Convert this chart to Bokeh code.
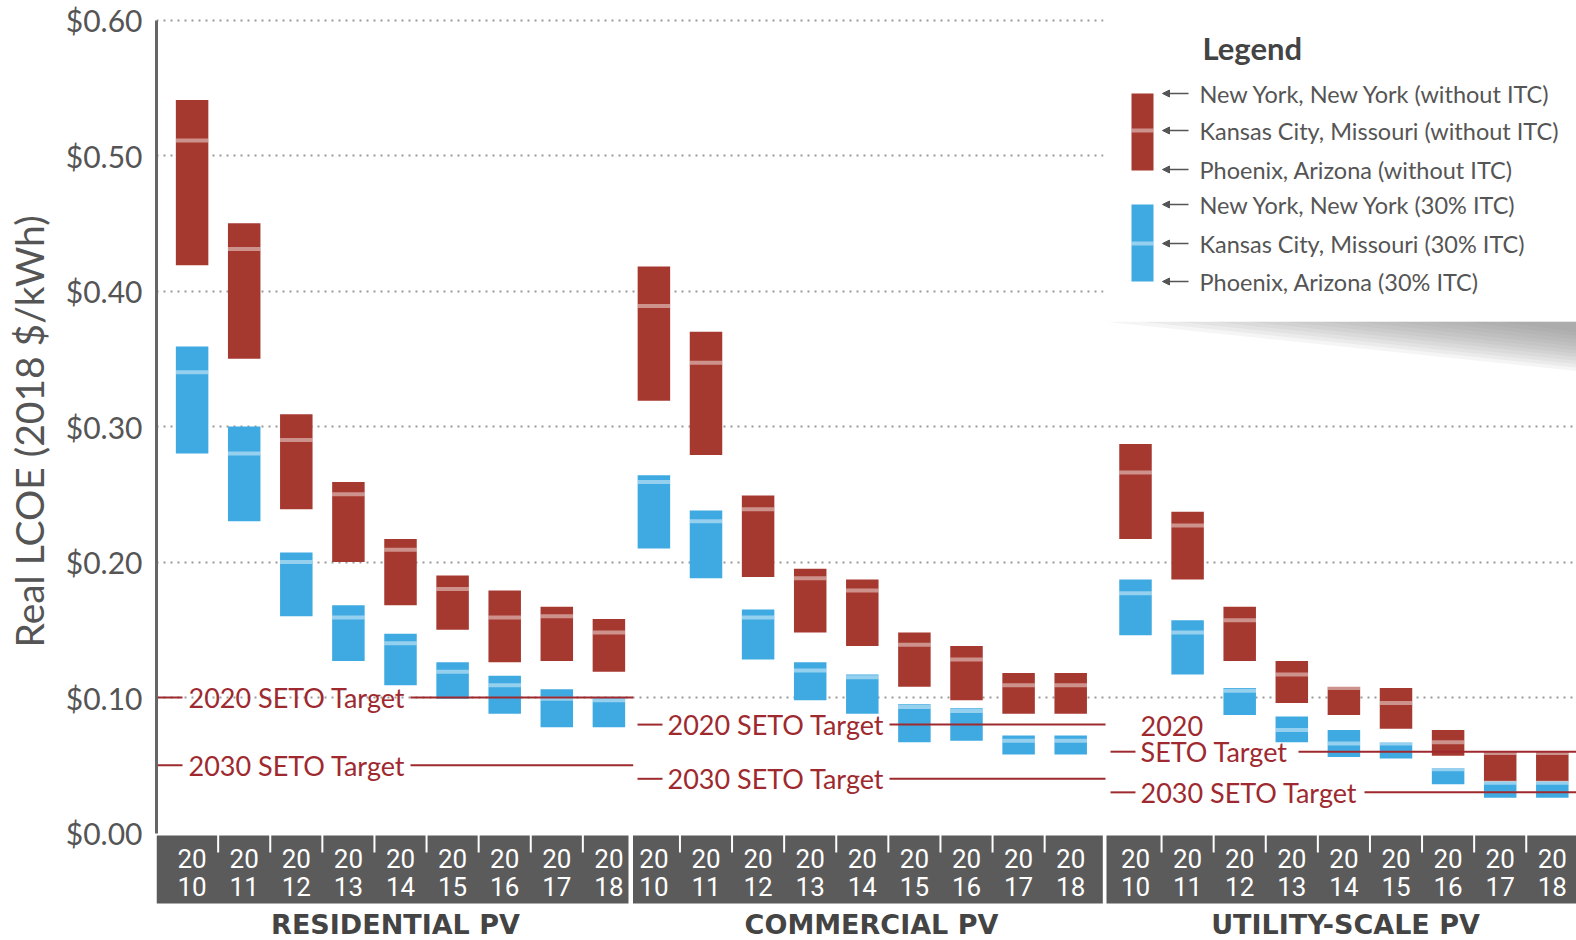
from bokeh.plotting import figure
from bokeh.models import Range1d, FixedTicker, NumeralTickFormatter, Arrow, NormalHead, ColumnDataSource
from bokeh.core.properties import value
from bokeh.embed import file_html
from bokeh.resources import INLINE

# ---------------- data ----------------
years = ["2010", "2011", "2012", "2013", "2014", "2015", "2016", "2017", "2018"]
groups = ["RESIDENTIAL PV", "COMMERCIAL PV", "UTILITY-SCALE PV"]

res_ny_no = [0.541, 0.450, 0.309, 0.259, 0.217, 0.190, 0.179, 0.167, 0.158]
res_kc_no = [0.511, 0.431, 0.290, 0.250, 0.209, 0.180, 0.159, 0.160, 0.148]
res_phx_no = [0.419, 0.350, 0.239, 0.200, 0.168, 0.150, 0.126, 0.127, 0.119]
res_ny_itc = [0.359, 0.300, 0.207, 0.168, 0.147, 0.126, 0.116, 0.106, 0.100]
res_kc_itc = [0.340, 0.280, 0.200, 0.159, 0.140, 0.119, 0.109, 0.099, 0.098]
res_phx_itc = [0.280, 0.230, 0.160, 0.127, 0.109, 0.099, 0.088, 0.078, 0.078]

com_ny_no = [0.418, 0.370, 0.249, 0.195, 0.187, 0.148, 0.138, 0.118, 0.118]
com_kc_no = [0.389, 0.347, 0.239, 0.188, 0.179, 0.139, 0.128, 0.109, 0.109]
com_phx_no = [0.319, 0.279, 0.189, 0.148, 0.138, 0.108, 0.098, 0.088, 0.088]
com_ny_itc = [0.264, 0.238, 0.165, 0.126, 0.117, 0.095, 0.092, 0.072, 0.072]
com_kc_itc = [0.259, 0.230, 0.159, 0.120, 0.115, 0.093, 0.090, 0.068, 0.068]
com_phx_itc = [0.210, 0.188, 0.128, 0.098, 0.088, 0.067, 0.068, 0.058, 0.058]

utl_ny_no = [0.287, 0.237, 0.167, 0.127, 0.108, 0.107, 0.076, 0.060, 0.060]
utl_kc_no = [0.266, 0.227, 0.157, 0.117, 0.107, 0.096, 0.067, 0.059, 0.059]
utl_phx_no = [0.217, 0.187, 0.127, 0.096, 0.087, 0.077, 0.057, 0.038, 0.038]
utl_ny_itc = [0.187, 0.157, 0.107, 0.086, 0.076, 0.067, 0.048, 0.038, 0.038]
utl_kc_itc = [0.177, 0.148, 0.105, 0.076, 0.066, 0.066, 0.047, 0.037, 0.037]
utl_phx_itc = [0.146, 0.117, 0.087, 0.067, 0.056, 0.055, 0.036, 0.026, 0.026]

targets_2020 = [0.10, 0.08, 0.06]
targets_2030 = [0.05, 0.04, 0.03]
target_2020_label = "2020 SETO Target"
target_2030_label = "2030 SETO Target"

y_ticks = [0.0, 0.1, 0.2, 0.3, 0.4, 0.5, 0.6]
y_axis_title = "Real LCOE (2018 $/kWh)"
legend_title = "Legend"
legend_labels = [
    "New York, New York (without ITC)",
    "Kansas City, Missouri (without ITC)",
    "Phoenix, Arizona (without ITC)",
    "New York, New York (30% ITC)",
    "Kansas City, Missouri (30% ITC)",
    "Phoenix, Arizona (30% ITC)",
]

series = [
    (res_ny_no, res_kc_no, res_phx_no, res_ny_itc, res_kc_itc, res_phx_itc),
    (com_ny_no, com_kc_no, com_phx_no, com_ny_itc, com_kc_itc, com_phx_itc),
    (utl_ny_no, utl_kc_no, utl_phx_no, utl_ny_itc, utl_kc_itc, utl_phx_itc),
]

# ---------------- layout helpers (page pixels -> data) ----------------
W, H = 1576, 940
PX_X0, PX_PER_U = 156.0, 52.1
PX_Y0, PX_PER_V = 832.5, 1355.0


def U(X):
    return (X - PX_X0) / PX_PER_U


def V(Y):
    return (PX_Y0 - Y) / PX_PER_V


RED = "#a6392f"
BLUE = "#3faae2"
TARGET = "#9e2a2f"
TXT = "#555555"
FONT = value("Lato")

GROUP_FIRST = [U(191.6), U(653.4), U(1135.0)]
BAND_L = [U(156), U(632.5), U(1106)]
BAND_R = [U(628), U(1102.3), U(1600)]
GROUP_LABEL_X = [U(395), U(871), U(1345)]
BAR_W = 32.5 / PX_PER_U

p = figure(width=W, height=H, output_backend="svg", toolbar_location=None,
           x_range=Range1d(U(156), U(W)), y_range=Range1d(V(H), V(0)),
           min_border_left=156, min_border_right=0, min_border_top=0, min_border_bottom=0,
           x_axis_location=None)
p.outline_line_color = None
p.background_fill_color = "white"
p.border_fill_color = "white"
p.xgrid.visible = False
p.ygrid.ticker = FixedTicker(ticks=y_ticks[1:])
p.ygrid.grid_line_color = "#9a9a9a"
p.ygrid.grid_line_width = 2
p.ygrid.grid_line_dash = "2 5"

ax = p.yaxis[0]
ax.ticker = FixedTicker(ticks=y_ticks)
ax.formatter = NumeralTickFormatter(format="$0.00")
ax.bounds = (0, 0.6)
ax.axis_line_width = 3
ax.axis_line_color = "#666666"
ax.major_tick_line_color = None
ax.minor_tick_line_color = None
ax.major_label_standoff = 8
ax.major_label_text_font = "Lato"
ax.major_label_text_font_size = "30px"
ax.major_label_text_color = TXT
# leading em/en spaces lift the title so it sits over the 0..0.6 span, as in the reference
ax.axis_label = "\u2003\u2003\u2002" + y_axis_title
ax.axis_label_text_font = "Lato"
ax.axis_label_text_font_size = "39px"
ax.axis_label_text_font_style = "normal"
ax.axis_label_text_color = TXT
ax.axis_label_standoff = 11

# ---------------- category band ----------------
p.quad(left=BAND_L, right=BAND_R, top=V(835), bottom=V(903), fill_color="#5b5b5b", line_color=None)
tick_x = []
for g in range(3):
    tick_x += [GROUP_FIRST[g] + i + 0.5 for i in range(len(years) - 1)]
p.segment(x0=tick_x, y0=[V(834)] * len(tick_x), x1=tick_x, y1=[V(852)] * len(tick_x),
          line_color="white", line_width=2)

all_x, top_lbl, bot_lbl = [], [], []
for g in range(3):
    for i, yr in enumerate(years):
        all_x.append(GROUP_FIRST[g] + i)
        top_lbl.append(yr[:2])
        bot_lbl.append(yr[2:])
p.text(x=all_x, y=[V(858)] * len(all_x), text=top_lbl, text_align="center", text_baseline="middle",
       text_font=value("Roboto"), text_font_size="26px", text_color="white")
p.text(x=all_x, y=[V(886)] * len(all_x), text=bot_lbl, text_align="center", text_baseline="middle",
       text_font=value("Roboto"), text_font_size="26px", text_color="white")

p.text(x=GROUP_LABEL_X, y=[V(924)] * 3, text=groups, text_align="center", text_baseline="middle",
       text_font=value("DejaVu Sans"), text_font_size="27px", text_font_style="bold", text_color="#444444")

# ---------------- bars ----------------
for g in range(3):
    ny_no, kc_no, phx_no, ny_itc, kc_itc, phx_itc = series[g]
    src = ColumnDataSource(dict(
        x=[GROUP_FIRST[g] + i for i in range(len(years))],
        ny_no=ny_no, kc_no=kc_no, phx_no=phx_no,
        ny_itc=ny_itc, kc_itc=kc_itc, phx_itc=phx_itc,
    ))
    p.vbar(x="x", width=BAR_W, bottom="phx_no", top="ny_no", source=src,
           fill_color=RED, line_color=None)
    p.rect(x="x", y="kc_no", width=BAR_W, height=4, height_units="screen", source=src,
           fill_color="white", fill_alpha=0.45, line_color=None)
    p.vbar(x="x", width=BAR_W, bottom="phx_itc", top="ny_itc", source=src,
           fill_color=BLUE, line_color=None)
    p.rect(x="x", y="kc_itc", width=BAR_W, height=4, height_units="screen", source=src,
           fill_color="white", fill_alpha=0.45, line_color=None)

# ---------------- SETO targets ----------------
# (stub start, stub end, text x, line resume) in page pixels, per group
t20 = [(156, 182, 188, 410), (637, 662, 667, 889), (1110, 1135, 1140, 1298)]
t30 = [(156, 182, 188, 410), (637, 662, 667, 889), (1110, 1135, 1140, 1364)]
seg_end = [632.7, 1105, 1600]
sx0, sx1, sy = [], [], []
tx, ty, tt = [], [], []
for g in range(3):
    for tv, lay, lbl in ((targets_2020[g], t20[g], target_2020_label), (targets_2030[g], t30[g], target_2030_label)):
        a, b, c, d = lay
        sx0 += [U(a), U(d)]
        sx1 += [U(b), U(seg_end[g])]
        sy += [tv, tv]
        if g == 2 and lbl == target_2020_label:
            tx += [U(c), U(c)]
            ty += [tv, tv + 26 / PX_PER_V]
            tt += [lbl[5:], lbl[:4]]
        else:
            tx.append(U(c))
            ty.append(tv)
            tt.append(lbl)
p.segment(x0=sx0, y0=sy, x1=sx1, y1=sy, line_color=TARGET, line_width=2)
p.text(x=tx, y=ty, text=tt, text_align="left", text_baseline="middle",
       text_font=FONT, text_font_size="27px", text_color=TARGET)

# ---------------- legend box ----------------
sh_xs, sh_ys = [], []
for k in range(12):
    xs0 = 1103 + k * 36
    sh_xs.append([U(xs0), U(1600), U(1600)])
    sh_ys.append([V(321), V(321), V(321 + 52 * (1 - k / 15.0))])
p.patches(xs=sh_xs, ys=sh_ys, fill_color="#7a7a7a", fill_alpha=0.08, line_color=None)
p.quad(left=[U(1103)], right=[U(1600)], top=[V(0)], bottom=[V(321)], fill_color="white", line_color=None)

p.text(x=[U(1202)], y=[V(47)], text=[legend_title], text_align="left", text_baseline="middle",
       text_font=FONT, text_font_size="31px", text_font_style="bold", text_color="#444444")
p.quad(left=[U(1131), U(1131)], right=[U(1153), U(1153)], top=[V(93), V(204)], bottom=[V(170), V(281)],
       fill_color=[RED, BLUE], line_color=None)
p.rect(x=[U(1142), U(1142)], y=[V(130), V(243)], width=22 / PX_PER_U, height=4, height_units="screen",
       fill_color="white", fill_alpha=0.45, line_color=None)
row_y = [93, 130, 169, 204, 243, 281]
for ry in row_y:
    p.add_layout(Arrow(end=NormalHead(size=7, fill_color=TXT, line_color=TXT, line_width=1),
                       x_start=U(1188), y_start=V(ry), x_end=U(1162), y_end=V(ry),
                       line_color=TXT, line_width=1.5))
p.text(x=[U(1199)] * 6, y=[V(ry) for ry in row_y], text=legend_labels, text_align="left",
       text_baseline="middle", text_font=FONT, text_font_size="23.5px", text_color=TXT)

open("out.html", "w").write(file_html(p, INLINE))
